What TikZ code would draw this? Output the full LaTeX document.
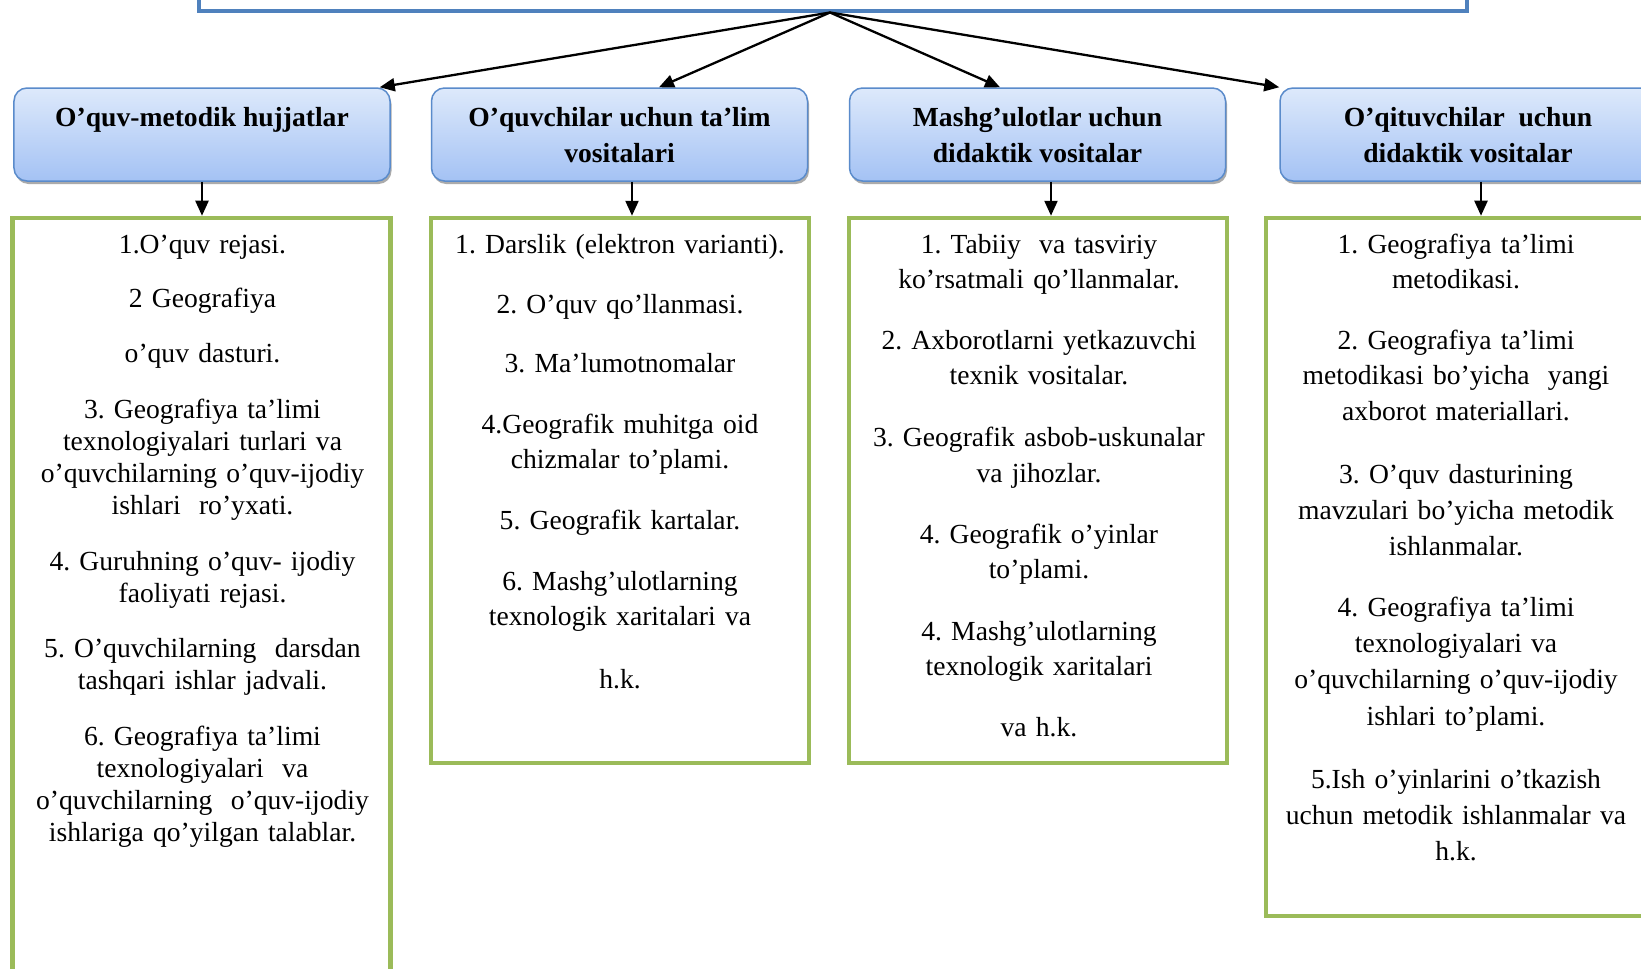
\documentclass[tikz,border=0pt]{standalone}
\usepackage{fontspec}
\setmainfont{Liberation Serif}
\usetikzlibrary{arrows.meta,shadows,calc}
\definecolor{topblue}{HTML}{4F81BD}
\definecolor{hdrtop}{HTML}{DDE9FB}
\definecolor{hdrbot}{HTML}{A4C2F4}
\definecolor{hdrline}{HTML}{5A8BCB}
\definecolor{grn}{HTML}{9BBB59}
\newcommand\hstrut{\rule{0pt}{31.2bp}}
\begin{document}
\frenchspacing
\begin{tikzpicture}[x=1bp,y=-1bp,
  hdr/.style={rounded corners=13bp, draw=hdrline, line width=1.5bp,
    top color=hdrtop, bottom color=hdrbot, minimum width=376bp, minimum height=93bp,
    align=center, inner sep=0pt,
    font=\fontsize{27.7}{36}\selectfont\bfseries\frenchspacing,
    drop shadow={shadow xshift=1.5bp, shadow yshift=-3bp, fill=black!55, opacity=0.6}},
  grnbox/.style={draw=grn, line width=4.5bp, minimum width=378bp, inner sep=0pt},
  arr/.style={line width=2.3bp, -{Triangle[length=15bp,width=13bp]}},
  para/.style={anchor=base, align=center, text width=420bp, inner sep=0pt},
  fa/.style={font=\fontsize{27.7}{32.4}\selectfont\frenchspacing},
  fb/.style={font=\fontsize{27.7}{35.8}\selectfont\frenchspacing},
  fc/.style={font=\fontsize{27.7}{36.6}\selectfont\frenchspacing}
]
\path[use as bounding box, clip] (0,0) rectangle (1641,968);
\fill[white] (0,0) rectangle (1641,968);

% top box (cut off by the upper margin)
\node[draw=topblue, line width=4bp, minimum width=1268bp, minimum height=60bp, inner sep=0pt] (top) at (833,-19.5) {};

% header boxes
\node[hdr] (b1) at (202,134.5) {\hstrut O’quv-metodik hujjatlar\\\strut};
\node[hdr] (b2) at (619.5,134.5) {\hstrut O’quvchilar uchun ta’lim\\\strut vositalari};
\node[hdr] (b3) at (1037.5,134.5) {\hstrut Mashg’ulotlar uchun\\\strut didaktik vositalar};
\node[hdr] (b4) at (1468,134.5) {\hstrut O’qituvchilar~ uchun\\\strut didaktik vositalar};

% fan arrows
\draw[arr] ([xshift=-3bp]top.south) -- ([xshift=-11bp]b1.north east);
\draw[arr] ([xshift=-3bp]top.south) -- ([xshift=39.5bp]b2.north);
\draw[arr] ([xshift=-3bp]top.south) -- ([xshift=-37.5bp]b3.north);
\draw[arr] ([xshift=-3bp]top.south) -- (b4.north west);

% green boxes
\node[grnbox, minimum height=782bp] (g1) at (201.7,609) {};
\node[grnbox, minimum height=545bp] (g2) at (620,490.5) {};
\node[grnbox, minimum height=545bp] (g3) at (1038,490.5) {};
\node[grnbox, minimum height=698bp] (g4) at (1455,567) {};

% down arrows
\draw[arr] (b1.south) -- (b1.south |- g1.north);
\draw[arr] ([xshift=12.5bp]b2.south) -- ([xshift=12.5bp]b2.south |- g2.north);
\draw[arr] ([xshift=13.5bp]b3.south) -- ([xshift=13.5bp]b3.south |- g3.north);
\draw[arr] ([xshift=13bp]b4.south) -- ([xshift=13bp]b4.south |- g4.north);

% texts of box 1
\node[para,fa] (t11) at (202.5,253) {1.O’quv rejasi.};
\node[para,fa] (t12) at (202.5,307) {2 Geografiya};
\node[para,fa] (t13) at (202.5,362) {o’quv dasturi.};
\node[para,fa] (t14) at (202.5,418) {3. Geografiya ta’limi\\texnologiyalari turlari va\\o’quvchilarning o’quv-ijodiy\\ishlari~ ro’yxati.};
\node[para,fa] (t15) at (202.5,570) {4. Guruhning o’quv- ijodiy\\faoliyati rejasi.};
\node[para,fa] (t16) at (202.5,657) {5. O’quvchilarning~ darsdan\\tashqari ishlar jadvali.};
\node[para,fa] (t17) at (202.5,745) {6. Geografiya ta’limi\\texnologiyalari~ va\\o’quvchilarning~ o’quv-ijodiy\\ishlariga qo’yilgan talablar.};

% texts of box 2
\node[para,fb] (t21) at (620,253) {1. Darslik (elektron varianti).};
\node[para,fb] (t22) at (620,313) {2. O’quv qo’llanmasi.};
\node[para,fb] (t23) at (620,372) {3. Ma’lumotnomalar};
\node[para,fb] (t24) at (620,433) {4.Geografik muhitga oid\\chizmalar to’plami.};
\node[para,fb] (t25) at (620,529) {5. Geografik kartalar.};
\node[para,fb] (t26) at (620,590) {6. Mashg’ulotlarning\\texnologik xaritalari va};
\node[para,fb] (t27) at (620,688) {h.k.};

% texts of box 3
\node[para,fb] (t31) at (1039,253) {1. Tabiiy~ va tasviriy\\ko’rsatmali qo’llanmalar.};
\node[para,fb] (t32) at (1039,349) {2. Axborotlarni yetkazuvchi\\texnik vositalar.};
\node[para,fb] (t33) at (1039,446.5) {3. Geografik asbob-uskunalar\\va jihozlar.};
\node[para,fb] (t34) at (1039,543) {4. Geografik o’yinlar\\to’plami.};
\node[para,fb] (t35) at (1039,640) {4. Mashg’ulotlarning\\texnologik xaritalari};
\node[para,fb] (t36) at (1039,736) {va h.k.};

% texts of box 4
\node[para,fb] (t41) at (1456,253) {1. Geografiya ta’limi\\metodikasi.};
\node[para,fb] (t42) at (1456,349) {2. Geografiya ta’limi\\metodikasi bo’yicha~ yangi\\axborot materiallari.};
\node[para,fc] (t43) at (1456,483) {3. O’quv dasturining\\mavzulari bo’yicha metodik\\ishlanmalar.};
\node[para,fc] (t44) at (1456,616) {4. Geografiya ta’limi\\texnologiyalari va\\o’quvchilarning o’quv-ijodiy\\ishlari to’plami.};
\node[para,fc] (t45) at (1456,788) {5.Ish o’yinlarini o’tkazish\\uchun metodik ishlanmalar va\\h.k.};
\end{tikzpicture}
\end{document}
